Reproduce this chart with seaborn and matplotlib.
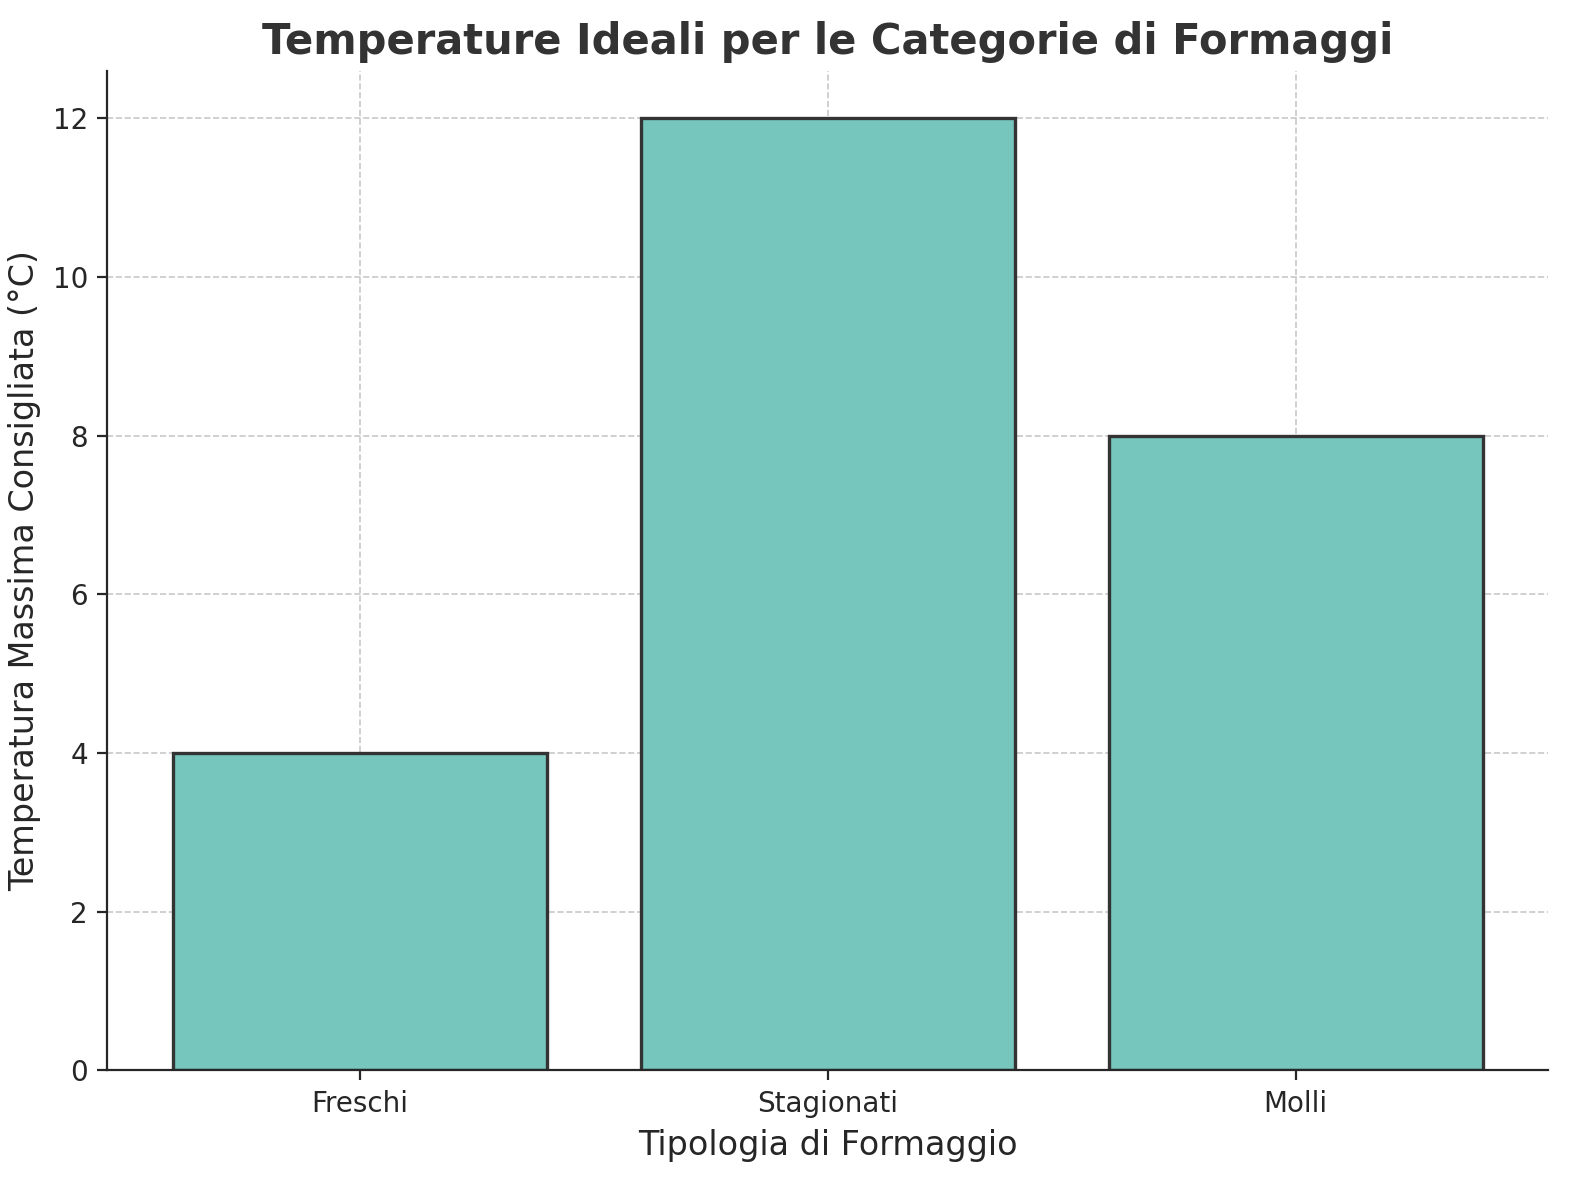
import matplotlib
matplotlib.use("Agg")
import matplotlib.pyplot as plt
import seaborn as sns
import pandas as pd

categories = ["Freschi", "Stagionati", "Molli"]
temperatures = [4, 12, 8]

sns.set_style("ticks")
plt.rcParams['font.family'] = ['DejaVu Sans']
df = pd.DataFrame({"cat": categories, "temp": temperatures})

fig, ax = plt.subplots(figsize=(7.9, 5.9), dpi=200)
sns.barplot(data=df, x="cat", y="temp", color="#76c6be", saturation=1,
            edgecolor="#333333", linewidth=1.2, width=0.8, ax=ax)
ax.set_xlim(-0.54, 2.54)
ax.set_ylim(0, 12.6)
ax.grid(True, linestyle="--", color="#bbbbbb", linewidth=0.6, alpha=0.8)
ax.set_axisbelow(True)
sns.despine(ax=ax)
ax.set_title("Temperature Ideali per le Categorie di Formaggi", fontsize=15,
             fontweight="bold", color="#333333")
ax.set_xlabel("Tipologia di Formaggio", fontsize=12)
ax.set_ylabel("Temperatura Massima Consigliata (°C)", fontsize=12)
ax.tick_params(labelsize=10)
fig.subplots_adjust(left=0.068, right=0.98, top=0.94, bottom=0.093)
fig.savefig("out.png", dpi=200)
